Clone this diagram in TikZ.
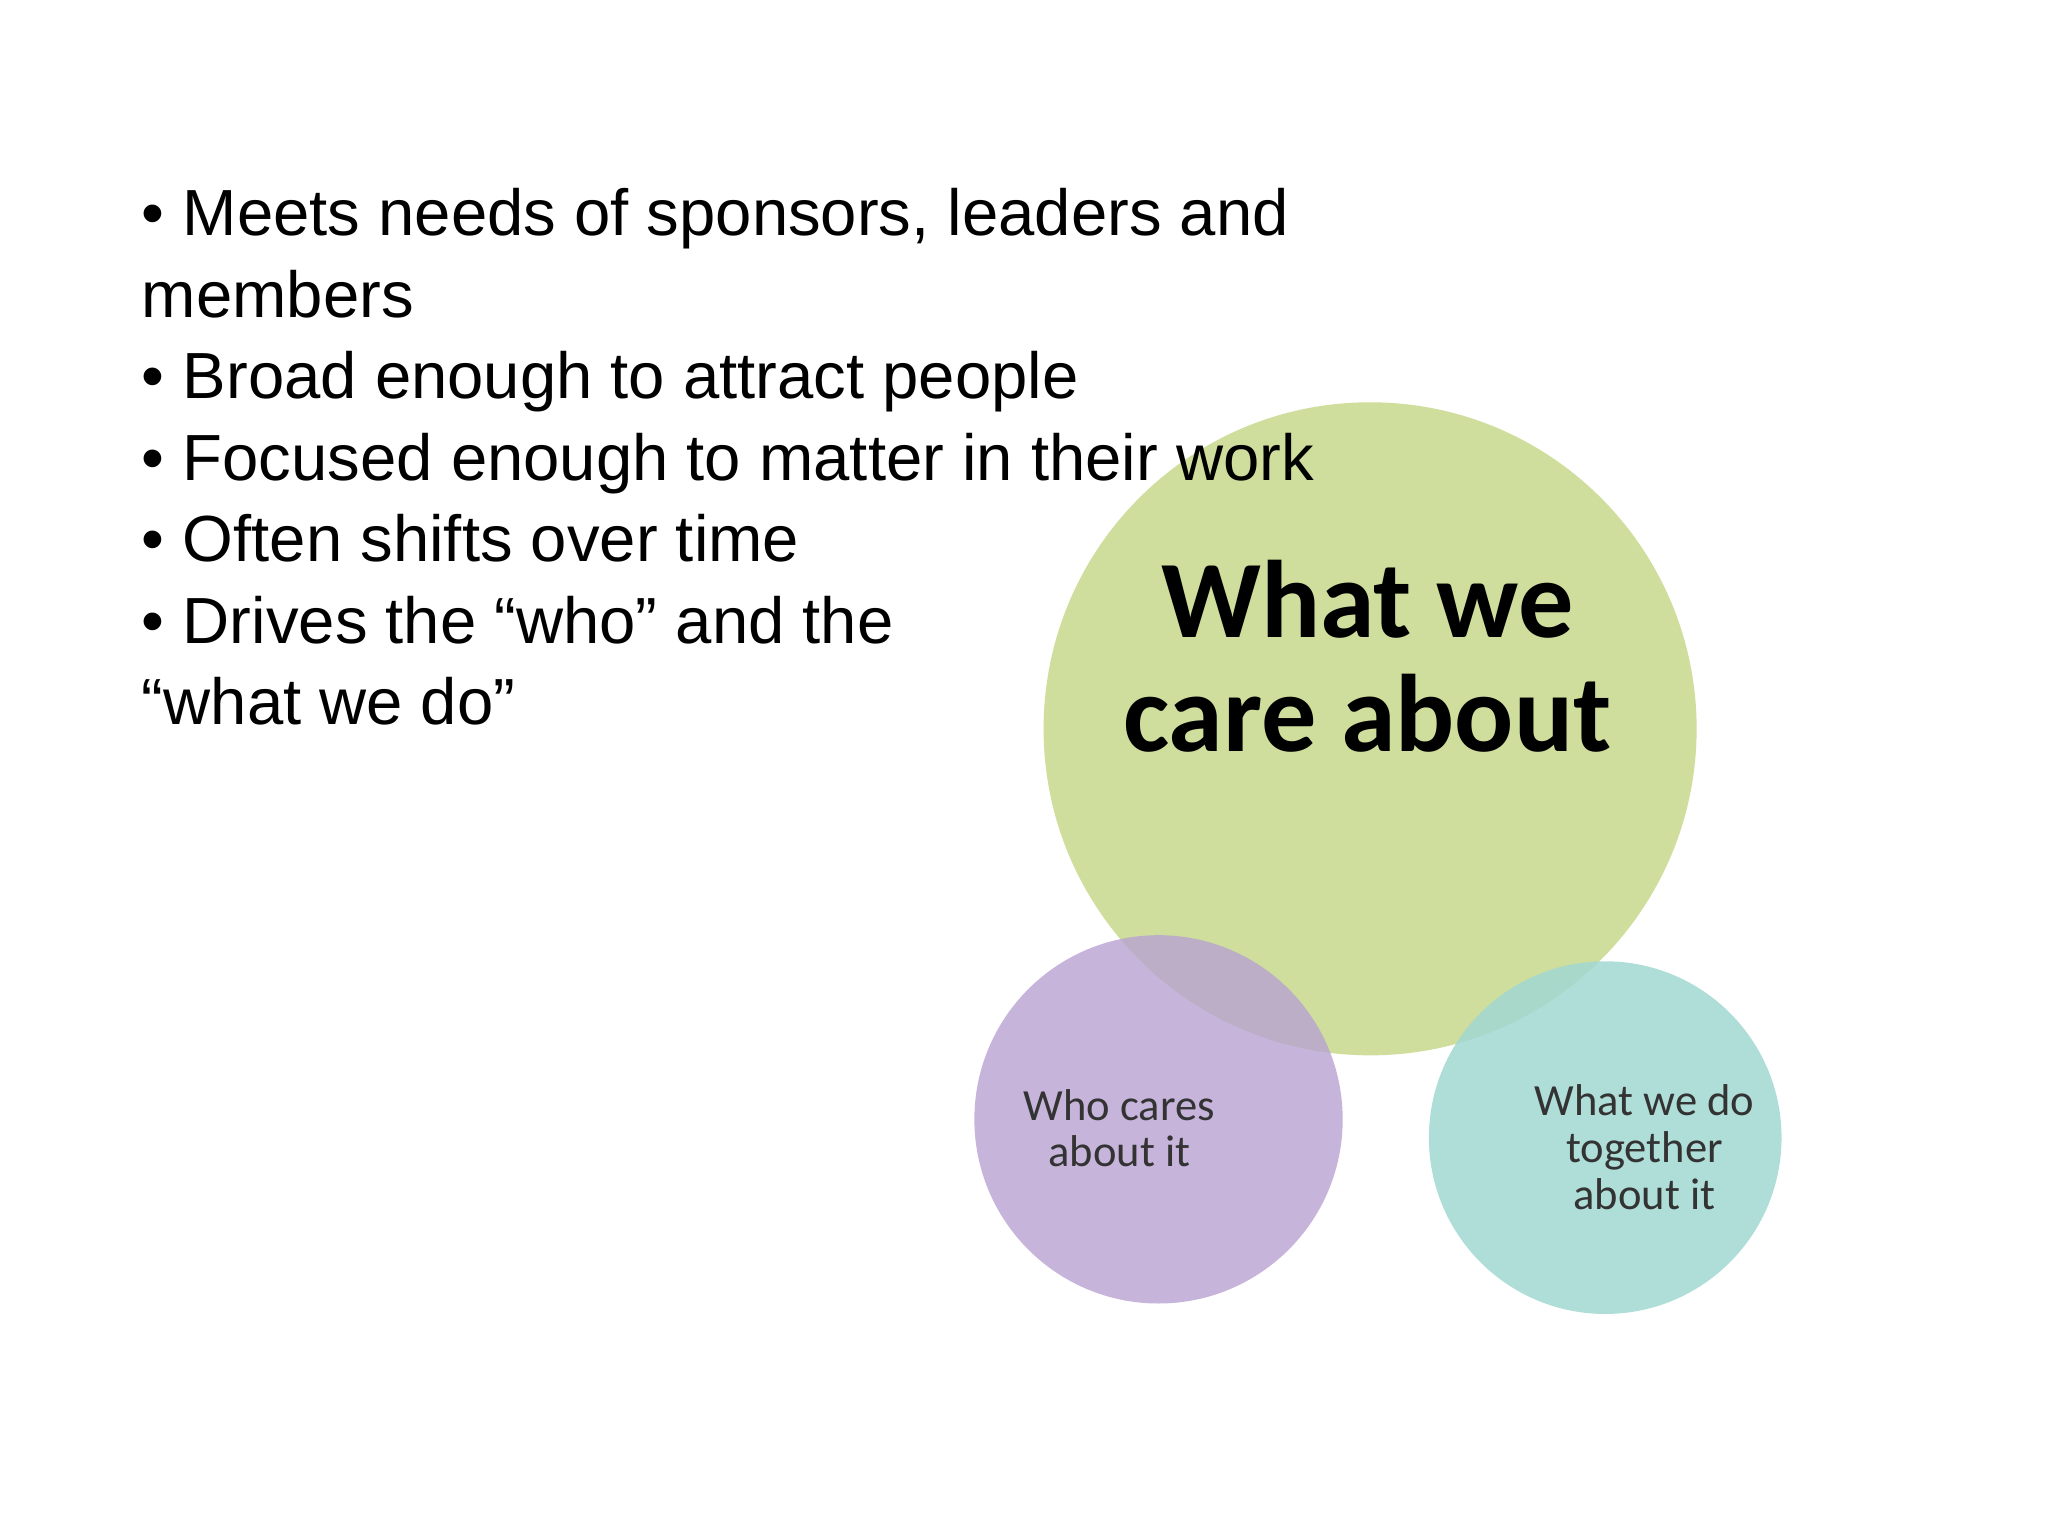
\documentclass[tikz,border=0pt]{standalone}
\usepackage{fontspec}
\setmainfont{Liberation Sans}
\newfontfamily\calfont{Carlito}
\definecolor{gr}{HTML}{CFDE9C}
\definecolor{pu}{HTML}{B9A2D2}
\definecolor{te}{HTML}{A2D8D2}
\tikzset{btxt/.style={anchor=base west,inner sep=0pt,font=\fontsize{14.2}{17}\selectfont},
 ctxt/.style={anchor=base,inner sep=0pt,align=center,font=\calfont\fontsize{9.7}{10.1}\selectfont,text=black!80}}
\begin{document}
\begin{tikzpicture}[x=0.01cm,y=-0.01cm]
\useasboundingbox[fill=white] (0,0) rectangle (1568,1176);
\fill[gr] (1049,558) circle (250);
\fill[pu,fill opacity=0.8] (887,857) circle (141);
\fill[te,fill opacity=0.85] (1229,871) circle (135);
\node[btxt] (l1) at (108,180) {• Meets needs of sponsors, leaders and};
\node[btxt] (l2) at (108,243) {members};
\node[btxt] (l3) at (108,305) {• Broad enough to attract people};
\node[btxt] (l4) at (108,368) {• Focused enough to matter in their work};
\node[btxt] (l5) at (108,430) {• Often shifts over time};
\node[btxt] (l6) at (108,493) {• Drives the “who” and the};
\node[btxt] (l7) at (108,555) {“what we do”};
\node[anchor=base,inner sep=0pt,font=\calfont\bfseries\fontsize{24}{24}\selectfont] (b1) at (1047,488) {What we};
\node[anchor=base,inner sep=0pt,font=\calfont\bfseries\fontsize{24}{24}\selectfont] (b2) at (1047,575) {care about};
\node[ctxt] (p1) at (857,858) {Who cares};
\node[ctxt] (p2) at (857,893) {about it};
\node[ctxt] (t1) at (1259,854) {What we do};
\node[ctxt] (t2) at (1259,890) {together};
\node[ctxt] (t3) at (1259,926) {about it};
\end{tikzpicture}
\end{document}
